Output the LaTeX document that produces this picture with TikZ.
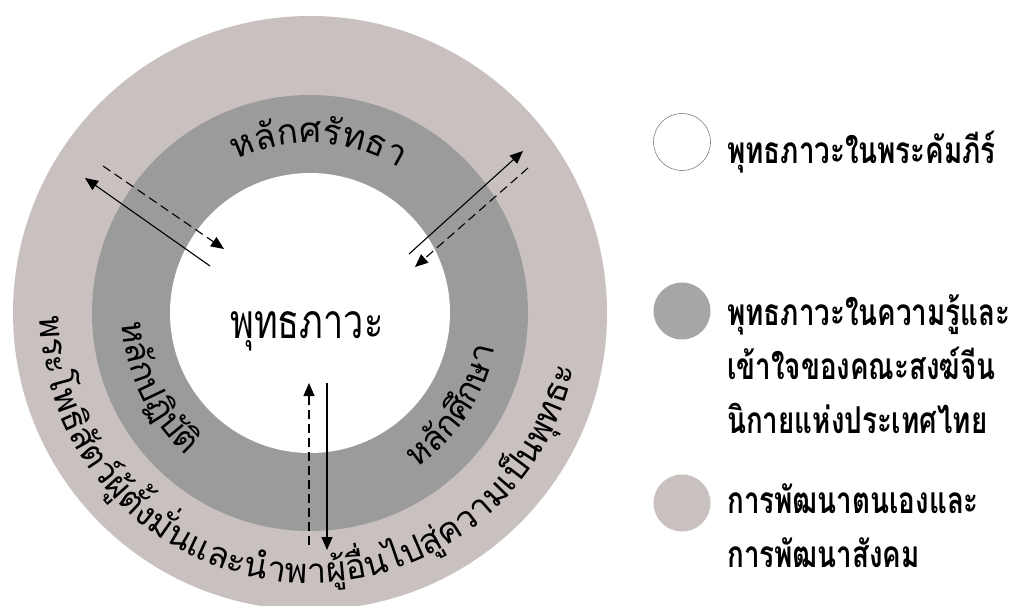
\documentclass[tikz,border=0pt]{standalone}
\usepackage{fontspec}
\newfontfamily\thai[Script=Thai]{Loma}
\newfontfamily\thain[Script=Thai,FakeStretch=0.75]{Loma}
\usetikzlibrary{decorations.text,arrows.meta,calc}
\definecolor{outerc}{RGB}{201,193,191}
\definecolor{bandc}{RGB}{155,155,155}
\definecolor{legb}{RGB}{166,166,166}
\tikzset{
  arr/.style={line width=1.1pt, -{Triangle[length=13pt,width=11pt]}},
  darr/.style={arr, dash pattern=on 9pt off 5pt},
  legtext/.style={anchor=base west, inner sep=0pt, font=\thain\bfseries\fontsize{37}{40}\selectfont},
  legdot/.style={circle, minimum size=57pt, inner sep=0pt},
  curvetext/.style={decorate, decoration={text along path, text align=center, text color=black}}
}
\begin{document}
\begin{tikzpicture}[x=1pt,y=1pt]
\useasboundingbox (0,0) rectangle (1016,-605);
\coordinate (C) at (310,-313);
\fill[outerc] (C) circle (297);
\fill[bandc] (C) circle (218);
\fill[white] (C) circle (140);

\node[anchor=base, inner sep=0pt, font=\thain\fontsize{48}{50}\selectfont] (center) at (307,-338) {พุทธภาวะ};

\path[curvetext, decoration={text={|\thai\fontsize{35}{38}\selectfont|ห{ลั}กศ{รั}ทธา}}]
  ($(C)+(140:170)$) arc[start angle=140, end angle=34, radius=170];
\path[curvetext, decoration={text={|\thai\fontsize{34}{38}\selectfont|ห{ลั}กป{ฏิ}{บั}{ติ}}}]
  ($(C)+(160:188)$) arc[start angle=160, end angle=252, radius=188];
\path[curvetext, decoration={text={|\thai\fontsize{34}{38}\selectfont|ห{ลั}ก{ศึ}กษา}}]
  ($(C)+(280:188)$) arc[start angle=280, end angle=374, radius=188];
\path[curvetext, decoration={text={|\thai\fontsize{34.5}{37}\selectfont|พระโพ{ธิ}{สั}ต{ว์}{ผู้}{ตั้}ง{มั่}นและ{นำ}พา{ผู้}{อื่}นไป{สู่}ความเ{ป็}น{พุ}ทธะ}}]
  ($(C)+(164.5:270)$) arc[start angle=164.5, end angle=364.5, radius=270];

\coordinate (a1s) at (210,-266); \coordinate (a1e) at (85,-178);
\coordinate (a1ds) at (103,-166); \coordinate (a1de) at (224,-249);
\draw[arr] (a1s) -- (a1e);
\draw[darr] (a1ds) -- (a1de);
\coordinate (a2s) at (409,-254); \coordinate (a2e) at (523,-151);
\coordinate (a2ds) at (528,-168); \coordinate (a2de) at (415,-267);
\draw[arr] (a2s) -- (a2e);
\draw[darr] (a2ds) -- (a2de);
\coordinate (a3ds) at (309,-545); \coordinate (a3de) at (309,-383);
\coordinate (a3s) at (327,-383); \coordinate (a3e) at (327,-550);
\draw[darr] (a3ds) -- (a3de);
\draw[arr] (a3s) -- (a3e);

\node[legdot, draw=gray, line width=0.6pt, fill=white] (l1) at (682,-142) {};
\node[legdot, fill=legb] (l2) at (682,-311) {};
\node[legdot, fill=outerc] (l3) at (682,-503) {};
\node[legtext] (t1) at (727,-163) {พุทธภาวะในพระคัมภีร์};
\node[legtext] (t2a) at (727,-325) {พุทธภาวะในความรู้และ};
\node[legtext] (t2b) at (727,-379) {เข้าใจของคณะสงฆ์จีน};
\node[legtext] (t2c) at (727,-433) {นิกายแห่งประเทศไทย};
\node[legtext] (t3a) at (727,-513) {การพัฒนาตนเองและ};
\node[legtext] (t3b) at (727,-567) {การพัฒนาสังคม};
\end{tikzpicture}
\end{document}
